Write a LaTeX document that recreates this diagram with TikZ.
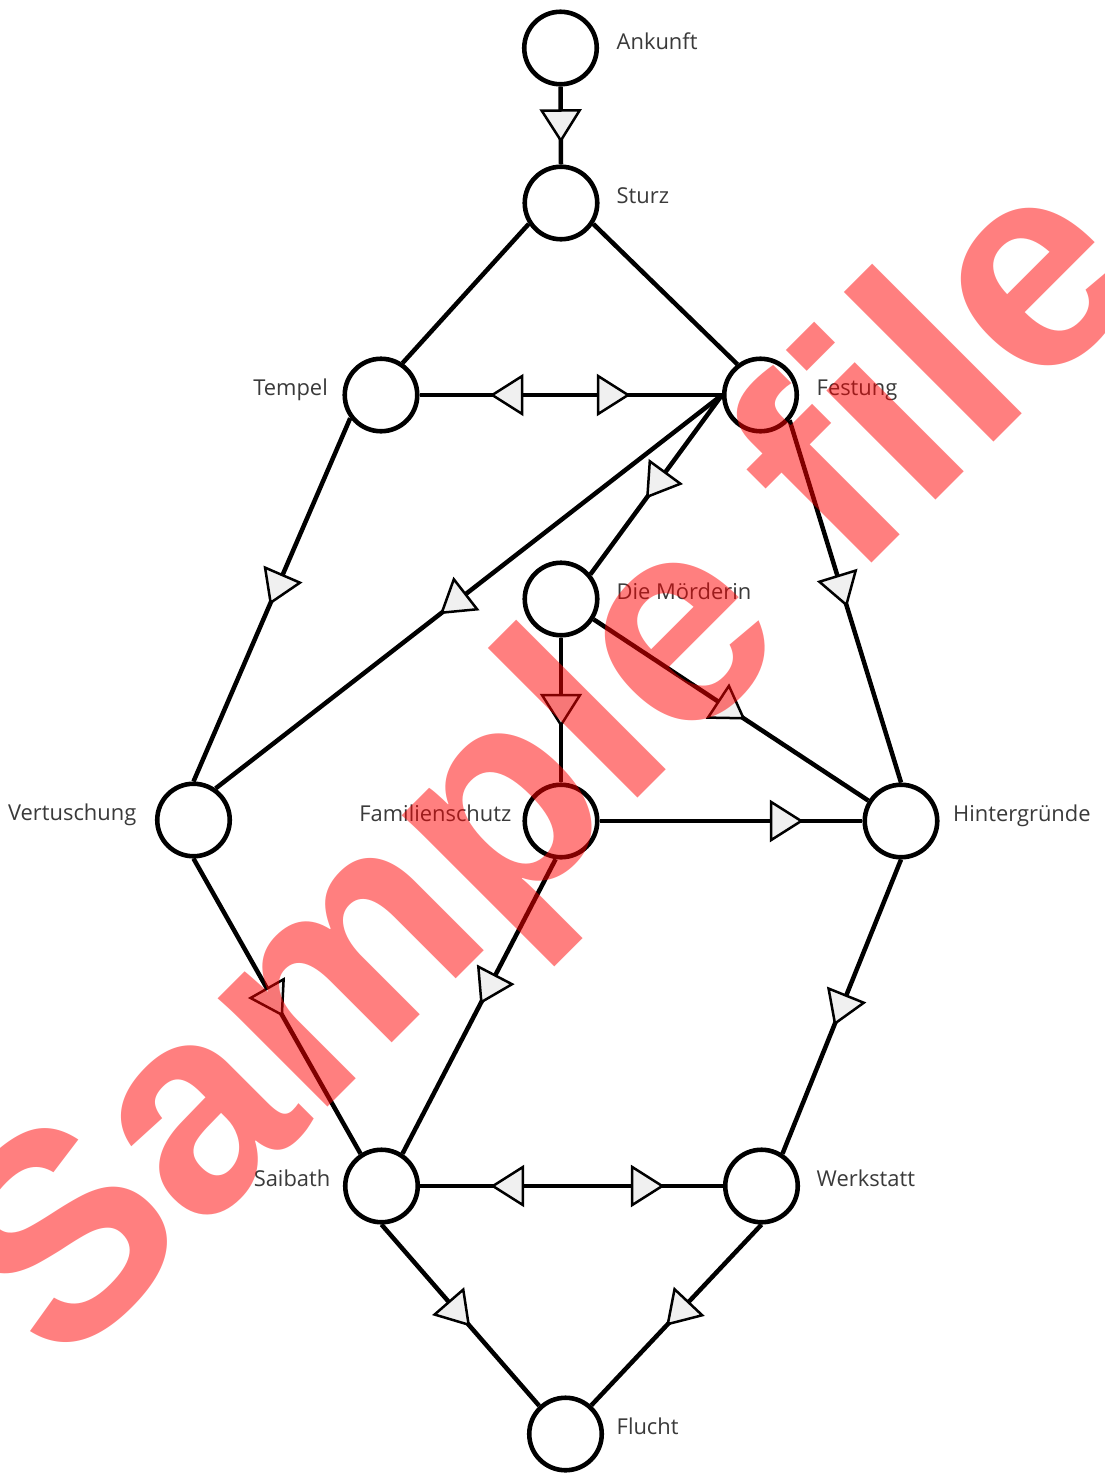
\documentclass[tikz,border=0pt]{standalone}
\usepackage{fontspec}
\setmainfont{Open Sans}
\newfontfamily\wmfont{Liberation Sans}
\usetikzlibrary{decorations.markings}
\definecolor{lblgray}{HTML}{3A3A3A}
\tikzset{
  st/.style={circle, draw=black, line width=4.6pt, minimum size=72.5pt, inner sep=0pt, fill=white},
  edge/.style={line width=4.5pt, line cap=butt},
  tri/.style={draw=black, fill=gray!12, line width=2.5pt, line join=miter},
  fwd/.style={postaction={decorate, decoration={markings, mark=at position #1 with {\draw[tri] (15pt,0pt) -- (-15pt,19pt) -- (-15pt,-19pt) -- cycle;}}}},
  bwd/.style={postaction={decorate, decoration={markings, mark=at position #1 with {\draw[tri] (-15pt,0pt) -- (15pt,19pt) -- (15pt,-19pt) -- cycle;}}}},
  lbl/.style={text=lblgray, font=\fontsize{21.9}{26}\selectfont, inner sep=0pt},
  wm/.style={text=red, text opacity=0.5, font=\wmfont\bfseries\fontsize{292}{300}\selectfont, inner sep=0pt, rotate=45}
}
\begin{document}
\begin{tikzpicture}[x=1pt, y=-1pt]
\useasboundingbox[fill=white] (0,0) rectangle (1105,1476);
% nodes
\node[st] (ank) at (560.5,48) {};
\node[st] (stu) at (561,203) {};
\node[st] (tem) at (381,395) {};
\node[st] (fes) at (760.5,395) {};
\node[st] (moe) at (561,599) {};
\node[st] (ver) at (193.5,820) {};
\node[st] (fam) at (561,821) {};
\node[st] (hin) at (901,821) {};
\node[st] (sai) at (381.5,1186) {};
\node[st] (wer) at (761.5,1186) {};
\node[st] (flu) at (565.5,1434) {};
% labels
\node[lbl, anchor=base west] (lank) at ([xshift=56pt,yshift=-1pt]ank.center) {Ankunft};
\node[lbl, anchor=base west] (lstu) at ([xshift=55.5pt]stu.center) {Sturz};
\node[lbl, anchor=base east] (ltem) at ([xshift=-53pt]tem.center) {Tempel};
\node[lbl, anchor=base west] (lfes) at ([xshift=56pt]fes.center) {Festung};
\node[lbl, anchor=base west] (lmoe) at ([xshift=55.5pt]moe.center) {Die Mörderin};
\node[lbl, anchor=base east] (lver) at ([xshift=-57pt]ver.center) {Vertuschung};
\node[lbl, anchor=base east] (lfam) at ([xshift=-49.5pt]fam.center) {Familienschutz};
\node[lbl, anchor=base west] (lhin) at ([xshift=52pt]hin.center) {Hintergründe};
\node[lbl, anchor=base east] (lsai) at ([xshift=-51pt]sai.center) {Saibath};
\node[lbl, anchor=base west] (lwer) at ([xshift=55pt]wer.center) {Werkstatt};
\node[lbl, anchor=base west] (lflu) at ([xshift=51pt]flu.center) {Flucht};
% edges
\draw[edge, fwd=0.5] (ank.south) -- (stu.north);
\draw[edge] (stu.213) -- (tem.56);
\draw[edge] (stu.327) -- (fes.127);
\draw[edge, bwd=0.29, fwd=0.64] (tem.east) -- (fes.west);
\draw[edge, fwd=0.47] (tem.217) -- (ver.north);
\draw[edge, fwd=0.53] (fes.west) -- (ver.55);
\draw[edge, fwd=0.5] (fes.west) -- (moe.40);
\draw[edge, fwd=0.47] (fes.319) -- (hin.north);
\draw[edge, fwd=0.5] (moe.south) -- (fam.north);
\draw[edge, fwd=0.5] (moe.328) -- (hin.148);
\draw[edge, fwd=0.71] (fam.east) -- (hin.west);
\draw[edge, fwd=0.485] (ver.south) -- (sai.123);
\draw[edge, fwd=0.44] (fam.262) -- (sai.57);
\draw[edge, fwd=0.51] (hin.south) -- (wer.57);
\draw[edge, bwd=0.29, fwd=0.75] (sai.east) -- (wer.west);
\draw[edge, fwd=0.49] (sai.south) -- (flu.133);
\draw[edge, fwd=0.49] (wer.south) -- (flu.48);
% watermark
\node[wm] (wmark) at (553,776) {Sample file};
\end{tikzpicture}
\end{document}
